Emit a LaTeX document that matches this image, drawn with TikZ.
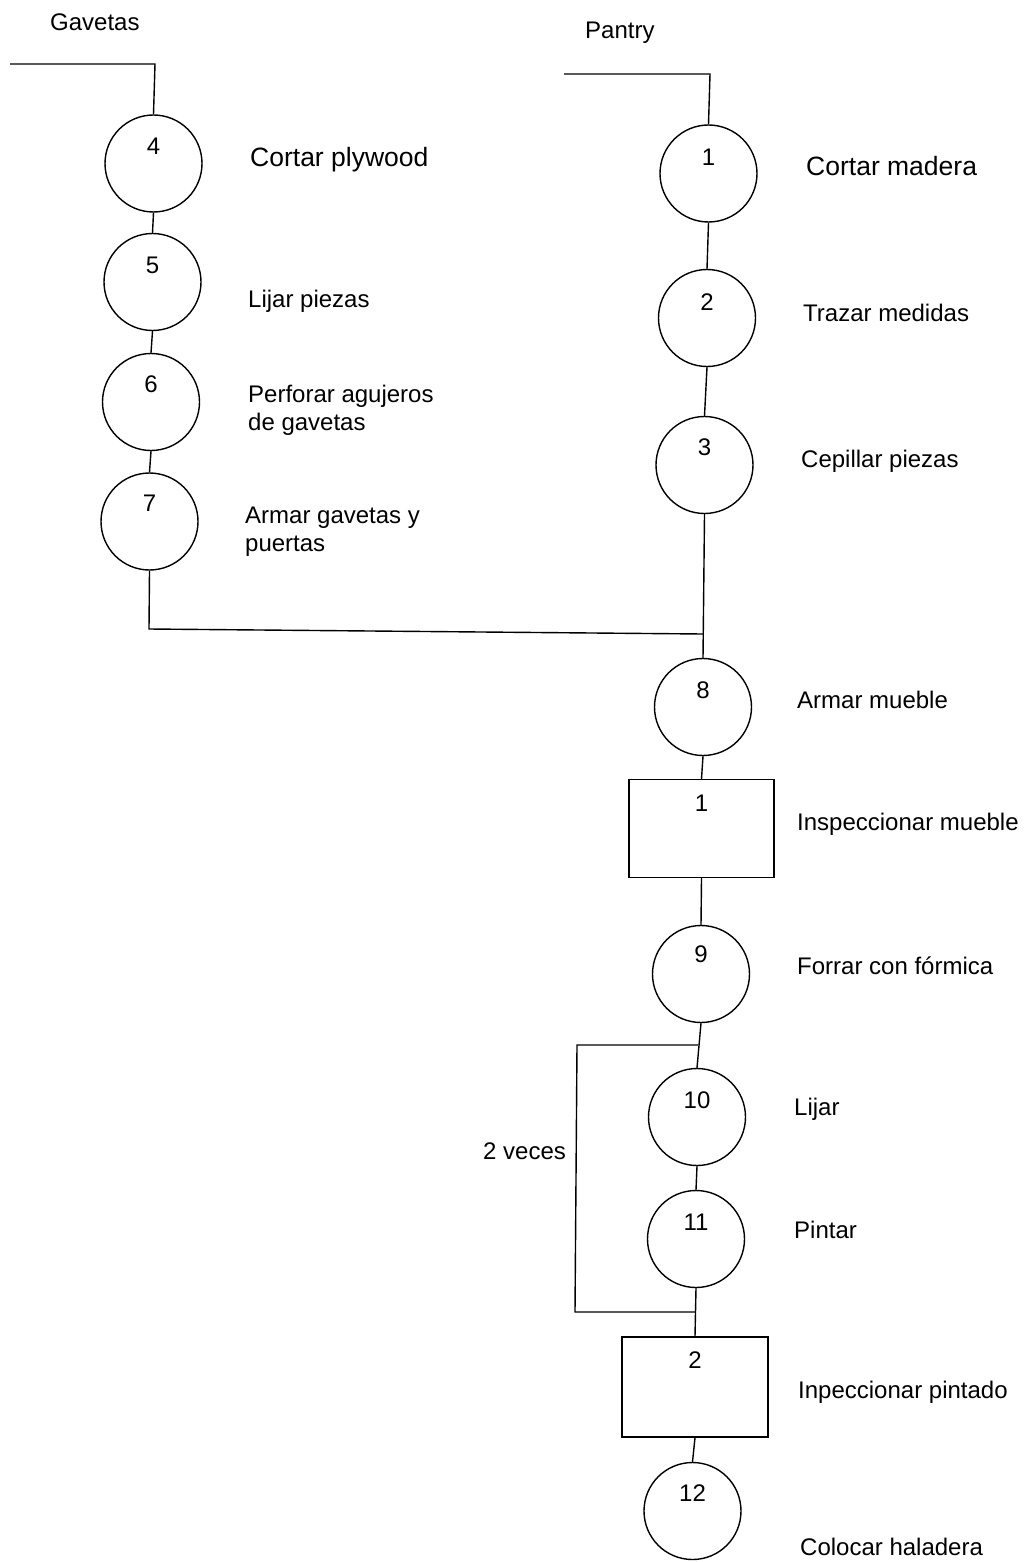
\documentclass[tikz,border=0pt]{standalone}
\usepackage{fontspec}
\setmainfont{Liberation Sans}
\usetikzlibrary{calc}
\begin{document}
\begin{tikzpicture}[x=1pt,y=-1pt,
  every node/.style={font=\fontsize{24pt}{28pt}\selectfont},
  opc/.style={circle,draw,line width=1.4pt,minimum size=97pt,inner sep=0pt},
  insp/.style={rectangle,draw,line width=1.4pt,minimum width=145pt,minimum height=98pt,inner sep=0pt},
  num/.style={inner sep=0pt,anchor=center},
  lbl/.style={inner sep=0pt,anchor=base west},
  big/.style={font=\fontsize{26.5pt}{30pt}\selectfont},
  conn/.style={line width=1.4pt}]
\useasboundingbox (0,0) rectangle (1030,1562);

% left column (Gavetas)
\node[opc] (c4) at (153.5,163.5) {};
\node[opc] (c5) at (152.5,282) {};
\node[opc] (c6) at (151,402) {};
\node[opc] (c7) at (149.5,521.5) {};

% right column (Pantry)
\node[opc] (c1) at (708.5,173.5) {};
\node[opc] (c2) at (707,318) {};
\node[opc] (c3) at (704.5,465) {};
\node[opc] (c8) at (703,707) {};
\node[insp] (i1) at (701.5,828.5) {};
\node[opc] (c9) at (701,974) {};
\node[opc] (c10) at (697,1117) {};
\node[opc] (c11) at (696,1239) {};
\node[insp,minimum width=146pt,minimum height=100pt] (i2) at (695,1387) {};
\node[opc] (c12) at (692.5,1511) {};

% numbers
\node[num] (n4) at ($(c4.center)+(0,-17.5)$) {4};
\node[num] (n5) at ($(c5.center)+(0,-17)$) {5};
\node[num] (n6) at ($(c6.center)+(0,-18)$) {6};
\node[num] (n7) at ($(c7.center)+(0,-18.5)$) {7};
\node[num] (n1) at ($(c1.center)+(0,-16.5)$) {1};
\node[num] (n2) at ($(c2.center)+(0,-15.5)$) {2};
\node[num] (n3) at ($(c3.center)+(0,-18)$) {3};
\node[num] (n8) at ($(c8.center)+(0,-17)$) {8};
\node[num] (ni1) at ($(i1.center)+(0,-25.5)$) {1};
\node[num] (n9) at ($(c9.center)+(0,-20)$) {9};
\node[num] (n10) at ($(c10.center)+(0,-17)$) {10};
\node[num] (n11) at ($(c11.center)+(0,-17)$) {11};
\node[num] (ni2) at ($(i2.center)+(0,-27)$) {2};
\node[num] (n12) at ($(c12.center)+(0,-18)$) {12};

% labels
\node[lbl] (tGav) at (50,31) {Gavetas};
\node[lbl] (tPan) at (585,39) {Pantry};
\node[lbl,big] (t4) at (250,167) {Cortar plywood};
\node[lbl] (t5) at (248,307) {Lijar piezas};
\node[lbl] (t6a) at (248,402) {Perforar agujeros};
\node[lbl] (t6b) at (248,430) {de gavetas};
\node[lbl] (t7a) at (245,523) {Armar gavetas y};
\node[lbl] (t7b) at (245,551) {puertas};
\node[lbl,big] (t1) at (806,176) {Cortar madera};
\node[lbl] (t2) at (803,321) {Trazar medidas};
\node[lbl] (t3) at (801,467) {Cepillar piezas};
\node[lbl] (t8) at (797,708) {Armar mueble};
\node[lbl] (ti1) at (797,830) {Inspeccionar mueble};
\node[lbl] (t9) at (797,974) {Forrar con fórmica};
\node[lbl] (t10) at (794,1115) {Lijar};
\node[lbl] (tvec) at (483,1159) {2 veces};
\node[lbl] (t11) at (794,1238) {Pintar};
\node[lbl] (ti2) at (798,1398) {Inpeccionar pintado};
\node[lbl] (t12) at (800,1555) {Colocar haladera};

% coordinates
\coordinate (g0) at (10,64);
\coordinate (g1) at (155,64);
\coordinate (p0) at (564,74);
\coordinate (p1) at (710,74);
\coordinate (jl) at (149,629);
\coordinate (j) at (703,634);
\coordinate (lt) at (698,1045);
\coordinate (ltl) at (577,1045);
\coordinate (lbl) at (575,1312);
\coordinate (lb) at (695,1312);

% connectors
\draw[conn] (g0) -- (g1) -- (c4.north);
\draw[conn] (c4.south) -- (c5.north);
\draw[conn] (c5.south) -- (c6.north);
\draw[conn] (c6.south) -- (c7.north);
\draw[conn] (c7.south) -- (jl) -- (j);
\draw[conn] (p0) -- (p1) -- (c1.north);
\draw[conn] (c1.south) -- (c2.north);
\draw[conn] (c2.south) -- (c3.north);
\draw[conn] (c3.south) -- (c8.north);
\draw[conn] (c8.south) -- (i1.north);
\draw[conn] (i1.south) -- (c9.north);
\draw[conn] (c9.south) -- (c10.north);
\draw[conn] (c10.south) -- (c11.north);
\draw[conn] (c11.south) -- (i2.north);
\draw[conn] (i2.south) -- (c12.north);
\draw[conn] (lt) -- (ltl) -- (lbl) -- (lb);
\end{tikzpicture}
\end{document}
